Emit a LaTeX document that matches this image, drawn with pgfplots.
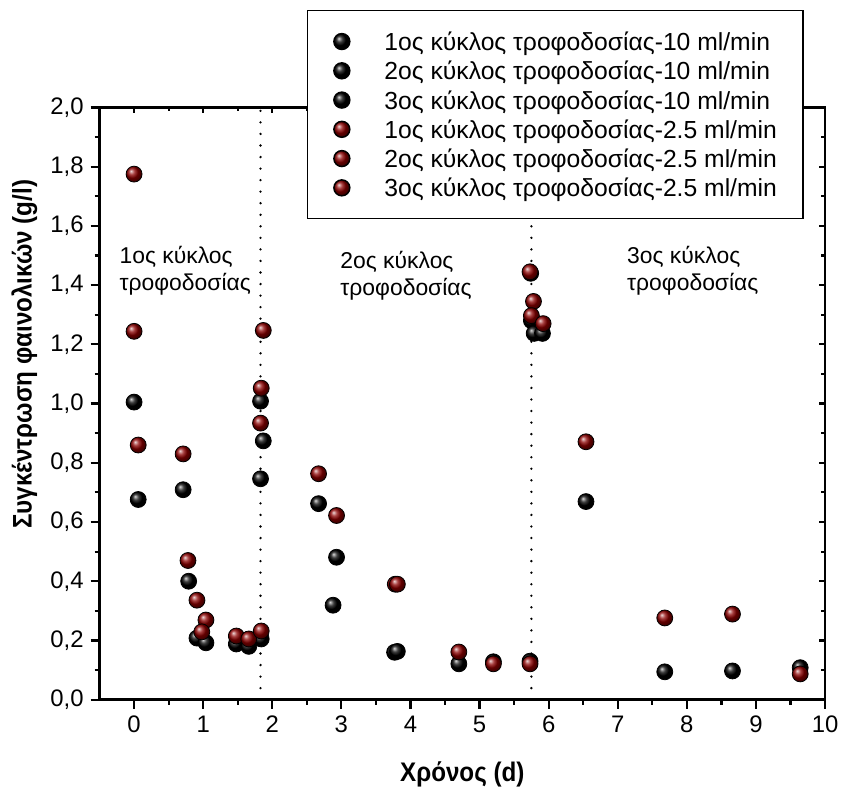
\documentclass[border=0pt]{standalone}
\usepackage{pgfplots}
\pgfplotsset{compat=1.18}
\usepackage{fontspec}
\setmainfont{Liberation Sans}
\newfontfamily\labelfont[FakeStretch=0.9]{Liberation Sans}
\definecolor{dred}{RGB}{140,0,0}
\begin{document}
\begin{tikzpicture}
\pgfplotsset{
  base/.style={
    scale only axis, width=364.5pt, height=297.5pt,
    xmin=-0.5, xmax=10, ymin=0, ymax=2,
    xtick={0,1,2,3,4,5,6,7,8,9,10}, minor x tick num=1,
    ytick={0,0.2,0.4,0.6,0.8,1.0,1.2,1.4,1.6,1.8,2.0}, minor y tick num=1,
    axis line style={line width=1.2pt},
    tick style={line width=1.1pt, black},
  }
}
\begin{axis}[base, at={(0,0)}, anchor=south west, tick align=inside,
  xtick pos=right, ytick pos=right, xticklabels={}, yticklabels={},
  major tick length=3pt, minor tick length=2pt, axis line style={draw=none}]
\end{axis}
\begin{axis}[base, at={(0,0)}, anchor=south west, tick align=outside,
  xtick pos=left, ytick pos=left, major tick length=4.5pt, minor tick length=2.5pt,
  clip=false,
  ticklabel style={font=\fontsize{12}{14}\selectfont},
  /pgf/number format/assume math mode=true,
  y tick label style={/pgf/number format/.cd, fixed, fixed zerofill, precision=1, use comma},
  xlabel={Χρόνος (d)},
  ylabel={Συγκέντρωση φαινολικών (g/l)},
  label style={font=\labelfont\bfseries\fontsize{13.5}{15}\selectfont, inner sep=0pt},
  xlabel style={at={(axis description cs:0.5,0)}, anchor=base, yshift=-41pt},
  ylabel style={at={(axis description cs:0,0.583)}, anchor=south, yshift=31pt},
  legend style={at={(axis description cs:0.2853,1.1647)}, anchor=north west,
    draw=black, line width=0.75pt, fill=white,
    font=\fontsize{12.4}{14}\selectfont, inner xsep=13pt, inner ysep=8pt,
    row sep=-0.3pt, column sep=17pt,
    nodes={inner sep=0pt, text height=12pt, text depth=3pt}},
  legend cell align=left,
]
\addplot[forget plot, black, line width=1.3pt, dash pattern=on 0pt off 5.8pt, line cap=round] coordinates {(1.83,0) (1.83,2)};
\addplot[forget plot, black, line width=1.3pt, dash pattern=on 0pt off 5.8pt, line cap=round] coordinates {(5.75,0) (5.75,2)};

\addplot[only marks, mark=ball, mark size=4pt, ball color=black] coordinates {
(0,1.005) (0.06,0.676) (0.71,0.709) (0.79,0.40) (0.91,0.208) (1.04,0.192) (1.48,0.188) (1.66,0.18) (1.84,0.205)};
\addlegendentry{1ος κύκλος τροφοδοσίας-10 ml/min}
\addplot[only marks, mark=ball, mark size=4pt, ball color=black] coordinates {
(1.83,1.008) (1.87,0.874) (1.83,0.746) (2.67,0.662) (2.93,0.481) (2.88,0.319) (3.77,0.160) (3.81,0.163) (4.70,0.121) (5.20,0.128) (5.73,0.130)};
\addlegendentry{2ος κύκλος τροφοδοσίας-10 ml/min}
\addplot[only marks, mark=ball, mark size=4pt, ball color=black] coordinates {
(5.74,1.44) (5.75,1.28) (5.79,1.237) (5.91,1.237) (6.54,0.669) (7.68,0.094) (8.66,0.097) (9.64,0.108)};
\addlegendentry{3ος κύκλος τροφοδοσίας-10 ml/min}
\addplot[only marks, mark=ball, mark size=4pt, ball color=dred] coordinates {
(0,1.775) (0,1.244) (0.06,0.86) (0.71,0.83) (0.78,0.47) (0.91,0.336) (1.04,0.269) (0.98,0.229) (1.48,0.215) (1.66,0.205) (1.84,0.232)};
\addlegendentry{1ος κύκλος τροφοδοσίας-2.5 ml/min}
\addplot[only marks, mark=ball, mark size=4pt, ball color=dred] coordinates {
(1.87,1.247) (1.84,1.052) (1.83,0.934) (2.67,0.763) (2.93,0.622) (3.78,0.39) (3.81,0.39) (4.70,0.161) (5.20,0.121) (5.73,0.121)};
\addlegendentry{2ος κύκλος τροφοδοσίας-2.5 ml/min}
\addplot[only marks, mark=ball, mark size=4pt, ball color=dred] coordinates {
(5.73,1.445) (5.78,1.345) (5.75,1.297) (5.92,1.27) (6.54,0.871) (7.68,0.276) (8.66,0.289) (9.64,0.087)};
\addlegendentry{3ος κύκλος τροφοδοσίας-2.5 ml/min}

\node[anchor=north west, align=left, inner sep=0pt, font=\fontsize{11.5}{13.5}\selectfont] at (axis cs:-0.216,1.533) {1ος κύκλος\\τροφοδοσίας};
\node[anchor=north west, align=left, inner sep=0pt, font=\fontsize{11.5}{13.5}\selectfont] at (axis cs:2.98,1.516) {2ος κύκλος\\τροφοδοσίας};
\node[anchor=north west, align=left, inner sep=0pt, font=\fontsize{11.5}{13.5}\selectfont] at (axis cs:7.13,1.533) {3ος κύκλος\\τροφοδοσίας};
\end{axis}
\path (-50pt,-43pt) rectangle (372.5pt,351.5pt);
\end{tikzpicture}
\end{document}
